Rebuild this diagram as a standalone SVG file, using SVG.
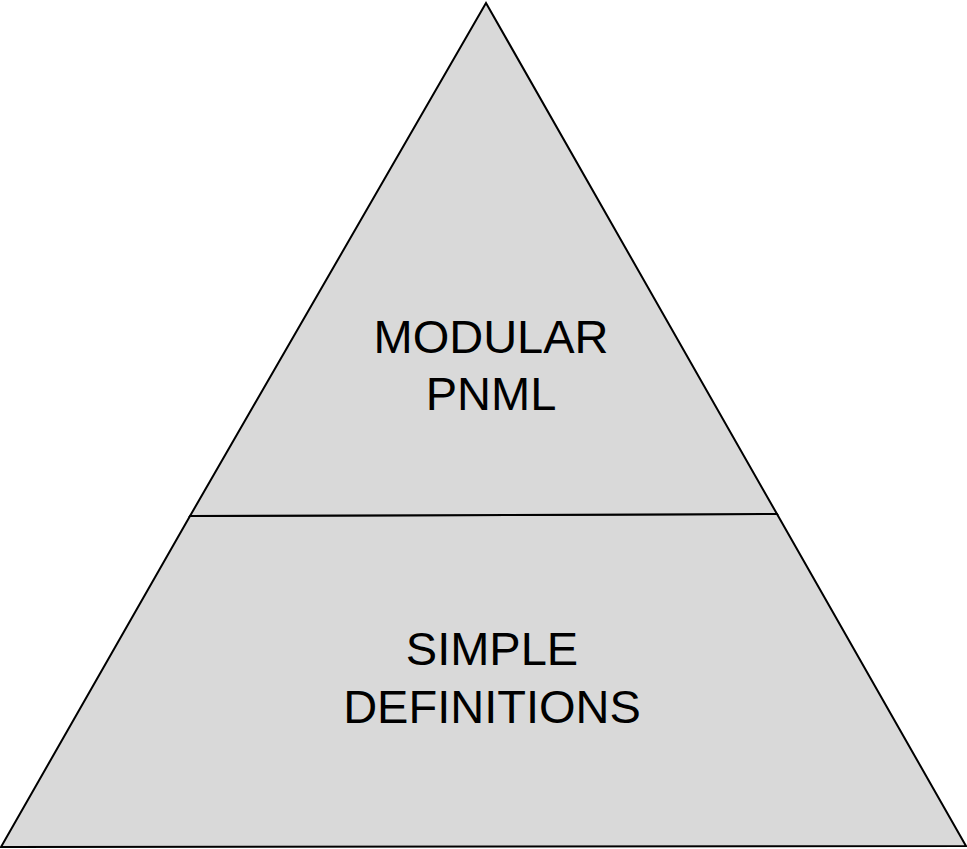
<svg xmlns="http://www.w3.org/2000/svg" width="967" height="849" viewBox="0 0 967 849">
<style>
.shape{fill:#d9d9d9;stroke:#000;stroke-width:2;stroke-linejoin:miter}
.lbl{font-family:"Liberation Sans",Arial,sans-serif;font-size:47px;fill:#000;text-anchor:middle}
</style>
<rect width="967" height="849" fill="#fff"/>
<g id="bottom">
<polygon class="shape" points="190,516 777,514 966,846 1,847"/>
<text class="lbl" x="492" y="665">SIMPLE</text>
<text class="lbl" x="492" y="723">DEFINITIONS</text>
</g>
<g id="top">
<polygon class="shape" points="486,3 777,514 190,516"/>
<text class="lbl" x="491" y="353">MODULAR</text>
<text class="lbl" x="491" y="410">PNML</text>
</g>
<g id="connectors"></g>
</svg>
